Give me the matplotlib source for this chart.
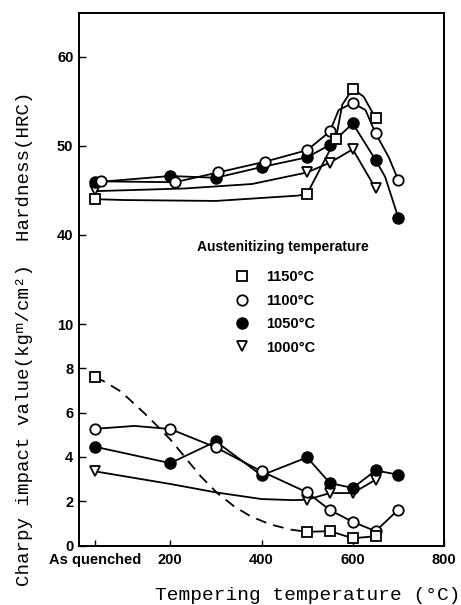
import matplotlib
matplotlib.use("Agg")
import matplotlib.pyplot as plt
from matplotlib.lines import Line2D

# ---------------------------------
# DATA
# ---------------------------------
series = ["1150°C", "1100°C", "1050°C", "1000°C"]
xtick_pos = [35, 200, 400, 600, 800]
xtick_labels = ["As quenched", "200", "400", "600", "800"]

# hardness (HRC) - markers
h1150_x = [35, 500, 563, 600, 650]
h1150_y = [44.0, 44.6, 50.8, 56.4, 53.1]
h1100_x = [48, 210, 305, 407, 500, 550, 600, 650, 700]
h1100_y = [46.0, 45.9, 47.0, 48.2, 49.5, 51.6, 54.8, 51.4, 46.1]
h1050_x = [35, 200, 300, 400, 500, 550, 600, 650, 700]
h1050_y = [45.9, 46.6, 46.4, 47.6, 48.7, 50.1, 52.5, 48.4, 41.9]
h1000_x = [35, 500, 550, 600, 650]
h1000_y = [45.0, 47.0, 48.1, 49.6, 45.2]

# hardness - drawn trend curves
hc1150_x = [35, 100, 300, 480, 500, 563, 577, 600, 624, 650]
hc1150_y = [44.0, 43.9, 43.8, 44.4, 44.6, 50.8, 54.6, 56.4, 55.5, 53.1]
hc1100_x = [48, 210, 305, 407, 500, 550, 569, 600, 628, 650, 679, 700]
hc1100_y = [46.0, 45.9, 47.0, 48.2, 49.5, 51.6, 54.0, 54.8, 54.0, 51.4, 48.7, 46.1]
hc1050_x = [35, 200, 300, 400, 500, 550, 600, 650, 671, 700]
hc1050_y = [45.9, 46.6, 46.4, 47.6, 48.7, 50.1, 52.5, 48.4, 46.5, 41.9]
hc1000_x = [35, 232, 379, 500, 550, 600, 650]
hc1000_y = [44.9, 45.2, 45.7, 47.0, 48.1, 49.6, 45.2]

# charpy impact value - markers
c1150_x = [35, 500, 550, 600, 650]
c1150_y = [7.6, 0.62, 0.65, 0.33, 0.42]
c1100_x = [35, 200, 300, 400, 500, 550, 600, 650, 700]
c1100_y = [5.27, 5.26, 4.43, 3.35, 2.4, 1.6, 1.07, 0.65, 1.62]
c1050_x = [35, 200, 300, 400, 500, 550, 600, 650, 700]
c1050_y = [4.46, 3.72, 4.7, 3.17, 3.98, 2.82, 2.6, 3.39, 3.2]
c1000_x = [35, 500, 550, 600, 650]
c1000_y = [3.35, 2.07, 2.37, 2.37, 2.97]

# charpy - drawn trend curves
cc1150_dash_x = [35, 56, 92, 143, 169, 201, 231, 267, 303, 340, 376, 420, 464, 500]
cc1150_dash_y = [7.6, 7.4, 6.95, 5.98, 5.45, 4.77, 4.02, 3.12, 2.37, 1.77, 1.32, 0.95, 0.72, 0.62]
cc1100_x = [35, 122, 200, 300, 400, 500, 550, 600, 650, 700]
cc1100_y = [5.27, 5.4, 5.26, 4.43, 3.35, 2.4, 1.6, 1.07, 0.65, 1.62]
cc1000_x = [35, 200, 300, 400, 470, 500, 550, 600, 650]
cc1000_y = [3.35, 2.78, 2.4, 2.1, 2.05, 2.07, 2.37, 2.37, 2.97]

# ---------------------------------
# STYLE
# ---------------------------------
tick_font = dict(family="Liberation Sans", weight="bold", size=10.5)
mono = ["Liberation Mono", "DejaVu Sans Mono"]
lw = 1.3
mk = {
    "1150": dict(marker="s", ms=7, mfc="white", mec="black", mew=1.3),
    "1100": dict(marker="o", ms=7.5, mfc="white", mec="black", mew=1.3),
    "1050": dict(marker="o", ms=8, mfc="black", mec="black", mew=1.0),
    "1000": dict(marker="v", ms=7.5, mfc="white", mec="black", mew=1.3),
}

fig = plt.figure(figsize=(4.61, 6.05), dpi=100)
ax = fig.add_axes([79 / 461, 1 - 546 / 605, 365 / 461, 533 / 605])
ax2 = ax.twinx()

# charpy lines
ax.plot(cc1150_dash_x, cc1150_dash_y, color="black", lw=lw, ls=(0, (6, 4)))
ax.plot(c1150_x[1:], c1150_y[1:], color="black", lw=lw)
ax.plot(cc1100_x, cc1100_y, color="black", lw=lw)
ax.plot(c1050_x, c1050_y, color="black", lw=lw)
ax.plot(cc1000_x, cc1000_y, color="black", lw=lw)
ax.plot(c1000_x, c1000_y, ls="none", zorder=3, **mk["1000"])
ax.plot(c1050_x, c1050_y, ls="none", zorder=3, **mk["1050"])
ax.plot(c1100_x, c1100_y, ls="none", zorder=4, **mk["1100"])
ax.plot(c1150_x, c1150_y, ls="none", zorder=4, **mk["1150"])

# hardness lines
ax2.plot(hc1150_x, hc1150_y, color="black", lw=lw)
ax2.plot(hc1100_x, hc1100_y, color="black", lw=lw)
ax2.plot(hc1050_x, hc1050_y, color="black", lw=lw)
ax2.plot(hc1000_x, hc1000_y, color="black", lw=lw)
ax2.plot(h1000_x, h1000_y, ls="none", zorder=3, **mk["1000"])
ax2.plot(h1050_x, h1050_y, ls="none", zorder=3, **mk["1050"])
ax2.plot(h1100_x, h1100_y, ls="none", zorder=4, **mk["1100"])
ax2.plot(h1150_x, h1150_y, ls="none", zorder=4, **mk["1150"])

# axes
ax.set_xlim(0, 800)
ax.set_ylim(-0.02, 24.04)
ax2.set_ylim(5.06, 64.9)
ax.set_xticks(xtick_pos)
ax.set_xticklabels(xtick_labels, fontdict=tick_font)
ax.set_yticks([0, 2, 4, 6, 8, 10])
ax.set_yticklabels(["0", "2", "4", "6", "8", "10"], fontdict=tick_font)
ax2.yaxis.tick_left()
ax2.set_yticks([40, 50, 60])
ax2.set_yticklabels(["40", "50", "60"], fontdict=tick_font)
for a in (ax, ax2):
    a.tick_params(direction="in", length=5, width=1, pad=4)
    for s in a.spines.values():
        s.set_linewidth(1.3)
ax.tick_params(axis="x", length=4, pad=5)

# legend
fig.text(283 / 461, 1 - 247 / 605, "Austenitizing temperature", ha="center", va="center",
         family="Liberation Sans", weight="bold", size=10)
handles = [Line2D([], [], ls="none", **mk[k]) for k in ["1150", "1100", "1050", "1000"]]
leg = ax.legend(handles, series, loc="upper left",
                bbox_to_anchor=(222 / 461, 1 - 257 / 605),
                bbox_transform=fig.transFigure, frameon=False,
                prop=dict(family="Liberation Sans", weight="bold", size=10.5),
                handlelength=1.0, handletextpad=1.1, labelspacing=0.65)
leg.set_zorder(5)

# axis labels
fig.text(0.054, 0.44, "Charpy impact value(kg\u1d50/cm\u00b2)  Hardness(HRC)",
         rotation=90, ha="center", va="center", family=mono, size=13.8)
fig.text(0.667, 0.0165, "Tempering temperature (°C)",
         ha="center", va="center", family=mono, size=14)

fig.savefig("out.png", dpi=100)
